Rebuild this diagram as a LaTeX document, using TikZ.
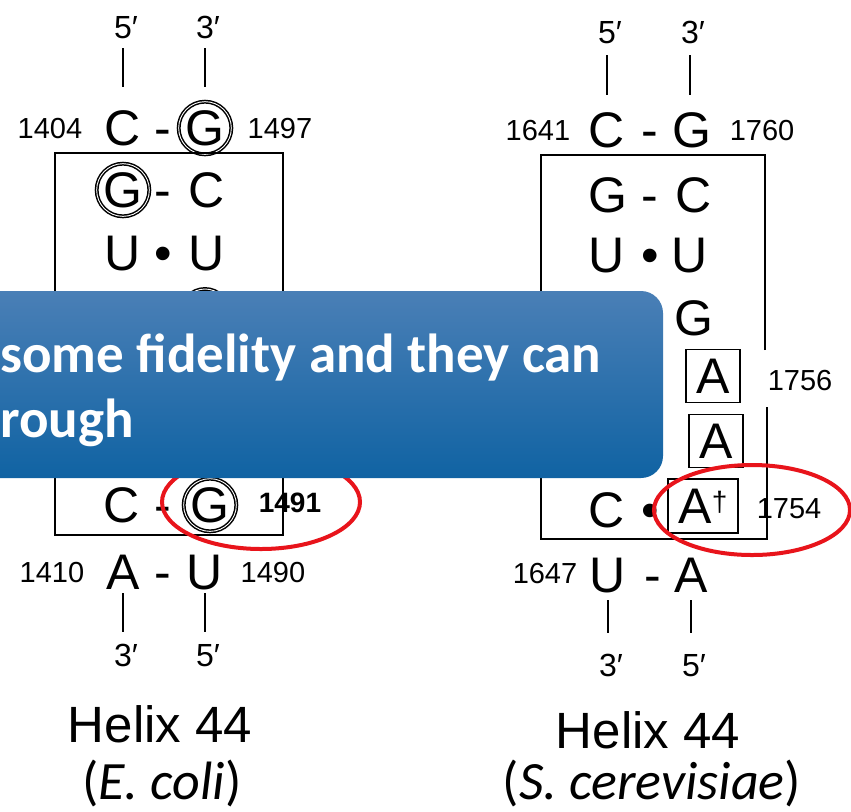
\documentclass[tikz,border=0pt]{standalone}
\usepackage{fontspec}
\setmainfont{Liberation Sans}
\newfontfamily\carlito{Carlito}
\definecolor{ringred}{RGB}{232,20,27}
\definecolor{bannertop}{RGB}{74,127,182}
\definecolor{bannerbot}{RGB}{16,99,163}
\usetikzlibrary{positioning,shapes.geometric}

\begin{document}
\begin{tikzpicture}[x=0.5pt,y=-0.5pt,
  nt/.style={inner sep=0pt,font=\fontsize{25}{30}\selectfont,text height=17.9pt,text depth=0pt},
  num/.style={inner sep=0pt,font=\fontsize{14.5}{17}\selectfont,text height=10.4pt,text depth=0pt},
  prm/.style={inner sep=0pt,font=\fontsize{16}{19}\selectfont,text height=11.5pt,text depth=0pt},
  ring/.style={circle,draw,double,double distance=0.45pt,line width=0.75pt,minimum size=24pt},
  abox/.style={draw,line width=0.9pt,minimum width=27pt,minimum height=26.5pt},
  tick/.style={line width=0.9pt},
  frame/.style={line width=0.9pt},
  oval/.style={draw=ringred,line width=2pt},
  title/.style={inner sep=0pt,font=\fontsize{25.5}{30}\selectfont},
  species/.style={inner sep=0pt,font=\carlito\fontsize{27}{32}\selectfont},
  msg/.style={inner sep=0pt,text=white,font=\carlito\bfseries\fontsize{27.5}{32.5}\selectfont}
]
  \fill[white] (0,0) rectangle (851,811);
  \useasboundingbox (0,0) rectangle (851,811);
  \clip (0,0) rectangle (851,811);

  % Helix 44, E. coli
  \node[prm] (e5) at (123,27) {5\rlap{′}};
  \node[prm] (e3) at (205,27) {3\rlap{′}};

  \node[num] (n1404) at (50,128) {1404};
  \node[nt] (eC1) at (123,128) {C};
  \node[nt] (eD1) at (163,128) {-};
  \node[nt,ring] (eG1) at (205,128) {G};
  \node[num] (n1497) at (280,128) {1497};

  \draw[frame] (55,153) rectangle (283,535);

  \node[nt,ring] (eG2) at (123,190) {G};
  \node[nt] (eD2) at (163,190) {-};
  \node[nt] (eC2) at (207,190) {C};

  \node[nt] (eU3) at (123,253) {U};
  \node[nt] (eB3) at (163,253) {•};
  \node[nt] (eU3b) at (207,253) {U};

  \node[ring] (eR4) at (205,313) {};

  \node[nt] (eC9) at (122,505) {C};
  \node[nt] (eD9) at (163,505) {-};
  \node[nt,ring] (eG9) at (210,505) {G};
  \node[num,font=\bfseries\fontsize{14}{17}\selectfont] (n1491) at (290,502) {1491};

  \node[num] (n1410) at (52,572) {1410};
  \node[nt] (eA10) at (123,572) {A};
  \node[nt] (eD10) at (163,572) {-};
  \node[nt] (eU10) at (205,572) {U};
  \node[num] (n1490) at (273,572) {1490};

  \node[prm] (e3b) at (123,655) {3\rlap{′}};
  \node[prm] (e5b) at (205,655) {5\rlap{′}};

  \draw[tick,shorten <=4.75pt,shorten >=11.5pt] (e5) -- (eC1);
  \draw[tick,shorten <=4.75pt,shorten >=11.5pt] (e3) -- (eG1.center |- eC1.north);
  \draw[tick,shorten <=1.5pt,shorten >=5.75pt] (eA10) -- (e3b);
  \draw[tick,shorten <=1.5pt,shorten >=5.75pt] (eU10) -- (e5b);

  \draw[oval] (261,502) ellipse [x radius=49.5pt,y radius=23.5pt];

  \node[title] (eTitle) at (160,724) {Helix 44};
  \node[species] (eName) at (162,783) {(\textit{E. coli})};

  % Helix 44, S. cerevisiae
  \node[prm] (s5) at (607,32) {5\rlap{′}};
  \node[prm] (s3) at (690,32) {3\rlap{′}};

  \node[num] (n1641) at (538,130) {1641};
  \node[nt] (sC1) at (607,130) {C};
  \node[nt] (sD1) at (650,130) {-};
  \node[nt] (sG1) at (692,130) {G};
  \node[num] (n1760) at (762,130) {1760};

  \draw[frame] (765,350) -- (765,155) -- (541,155) -- (541,539) -- (767,539) -- (767,407);

  \node[nt] (sG2) at (608,195) {G};
  \node[nt] (sD2) at (650,195) {-};
  \node[nt] (sC2) at (694,195) {C};

  \node[nt] (sU3) at (607,255) {U};
  \node[nt] (sB3) at (650,255) {•};
  \node[nt] (sU3b) at (690,255) {U};

  \node[nt] (sG4) at (694,318) {G};

  \node[nt,abox] (sA5) at (713,376) {A};
  \node[num] (n1756) at (800,380) {1756};

  \node[nt,abox] (sA6) at (716,441) {A};

  \node[nt] (sC7) at (607,510) {C};
  \node[nt] (sB7) at (650,510) {•};
  \node[nt,abox,minimum width=35pt,minimum height=27pt] (sA7) at (703,506)
    {A\raisebox{6pt}{\fontsize{14}{14}\selectfont †}};
  \node[num] (n1754) at (789,508) {1754};

  \node[num] (n1647) at (545,573) {1647};
  \node[nt] (sU8) at (608,575) {U};
  \node[nt] (sD8) at (653,575) {-};
  \node[nt] (sA8) at (691,575) {A};

  \node[prm] (s3b) at (608,665) {3\rlap{′}};
  \node[prm] (s5b) at (691,665) {5\rlap{′}};

  \draw[tick,shorten <=5.75pt,shorten >=8.5pt] (s5) -- (sC1);
  \draw[tick,shorten <=5.75pt,shorten >=8.5pt] (s3) -- (s3 |- sG1.north);
  \draw[tick,shorten <=3.5pt,shorten >=10pt] (sU8) -- (s3b);
  \draw[tick,shorten <=3.5pt,shorten >=10pt] (sA8) -- (s5b);

  \draw[oval] (752,510) ellipse [x radius=49pt,y radius=22.5pt];

  \node[title] (sTitle) at (648,730) {Helix 44};
  \node[species] (sName) at (652,783) {(\textit{S. cerevisiae})};

  % Banner
  \shade[top color=bannertop,bottom color=bannerbot,rounded corners=11pt]
    (-60,291) rectangle (663,478);
  \node[msg,anchor=base west] (msg1) at (0,372) {some fidelity and they can};
  \node[msg,anchor=base west] (msg2) at (0,437) {rough};
\end{tikzpicture}
\end{document}
